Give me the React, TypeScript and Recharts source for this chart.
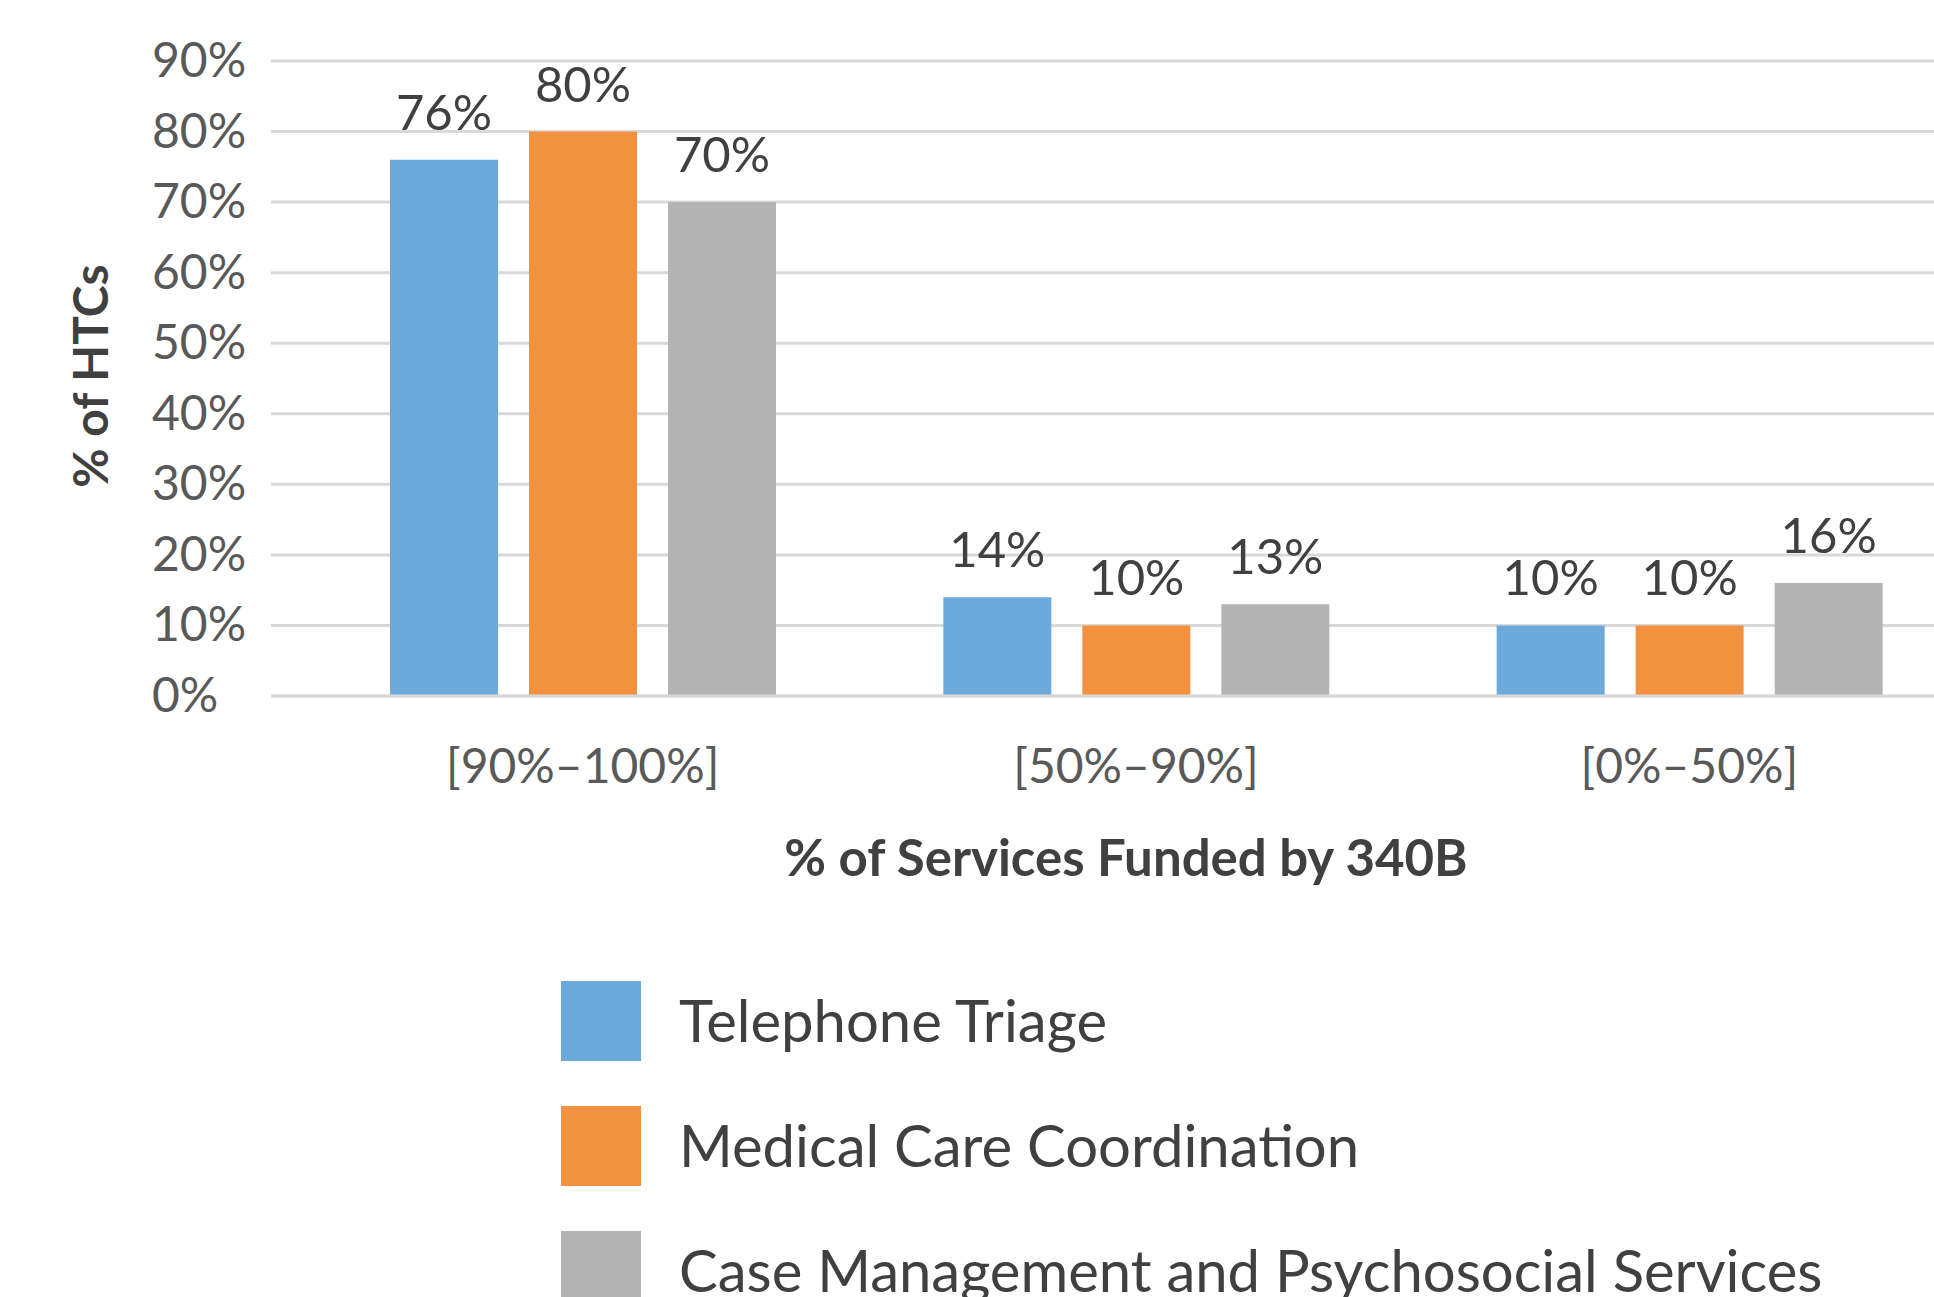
import { BarChart, Bar, XAxis, YAxis, CartesianGrid, Legend, LabelList } from 'recharts'

const categories = ['[90%–100%]', '[50%–90%]', '[0%–50%]']
const telephoneTriage = [76, 14, 10]
const medicalCare = [80, 10, 10]
const caseManagement = [70, 13, 16]
const yTicks = [0, 10, 20, 30, 40, 50, 60, 70, 80, 90]

const seriesNames = ['Telephone Triage', 'Medical Care Coordination', 'Case Management and Psychosocial Services']
const seriesColors = ['#6CAADC', '#F29241', '#B3B3B3']

const data = categories.map((name, i) => ({
  name,
  tt: telephoneTriage[i],
  mc: medicalCare[i],
  cm: caseManagement[i],
}))

const FONT = 'Lato, "Open Sans", sans-serif'

const YTick = ({ x, y, payload }: any) => (
  <text x={x - 119} y={y + 16} textAnchor="start" fontSize={48} fill="#595959" fontFamily={FONT}>
    {payload.value}%
  </text>
)

const XTick = ({ x, y, payload }: any) => (
  <text x={x} y={y + 87} textAnchor="middle" fontSize={48} fill="#595959" fontFamily={FONT}>
    {payload.value}
  </text>
)

const LegendContent = () => (
  <div style={{ fontFamily: FONT }}>
    {seriesNames.map((n, i) => (
      <div key={n} style={{ display: 'flex', alignItems: 'center', height: 80, marginBottom: 45 }}>
        <div style={{ width: 80, height: 80, background: seriesColors[i] }} />
        <span style={{ marginLeft: 38, fontSize: 58, color: '#404040', whiteSpace: 'nowrap', marginTop: -4 }}>{n}</span>
      </div>
    ))}
  </div>
)

export default function App() {
  return (
    <div style={{ position: 'absolute', left: 0, top: 0, width: 1934, height: 1297, overflow: 'hidden', background: '#fff' }}>
      <BarChart
        width={1966}
        height={1297}
        data={data}
        margin={{ top: 61, right: 0, left: 0, bottom: 471 }}
        barSize={108}
        barGap={31}
      >
        <CartesianGrid vertical={false} stroke="#D9D9D9" strokeWidth={3} />
        <XAxis
          dataKey="name"
          height={130}
          padding={{ left: 35, right: 0 }}
          axisLine={{ stroke: '#D9D9D9', strokeWidth: 3 }}
          tickLine={false}
          tickSize={0}
          tickMargin={0}
          tick={<XTick />}
          label={{
            content: () => (
              <text x={1126} y={876} textAnchor="middle" fontSize={51} fontWeight="bold" fill="#404040" fontFamily={FONT}>
                % of Services Funded by 340B
              </text>
            ),
          }}
        />
        <YAxis
          width={271}
          domain={[0, 90]}
          ticks={yTicks}
          axisLine={false}
          tickLine={false}
          tickSize={0}
          tickMargin={0}
          tick={<YTick />}
          label={{
            content: () => (
              <text x={108} y={376} transform="rotate(-90, 108, 376)" textAnchor="middle" fontSize={48} fontWeight="bold" fill="#404040" fontFamily={FONT}>
                % of HTCs
              </text>
            ),
          }}
        />
        <Legend
          layout="vertical"
          align="center"
          verticalAlign="middle"
          content={<LegendContent />}
          wrapperStyle={{ position: 'absolute', left: 561, top: 981, width: 1300 }}
        />
        <Bar dataKey="tt" name={seriesNames[0]} fill={seriesColors[0]} isAnimationActive={false}>
          <LabelList dataKey="tt" position="top" offset={30} formatter={(v: any) => `${v}%`} fontSize={49} fill="#404040" fontFamily={FONT} />
        </Bar>
        <Bar dataKey="mc" name={seriesNames[1]} fill={seriesColors[1]} isAnimationActive={false}>
          <LabelList dataKey="mc" position="top" offset={30} formatter={(v: any) => `${v}%`} fontSize={49} fill="#404040" fontFamily={FONT} />
        </Bar>
        <Bar dataKey="cm" name={seriesNames[2]} fill={seriesColors[2]} isAnimationActive={false}>
          <LabelList dataKey="cm" position="top" offset={30} formatter={(v: any) => `${v}%`} fontSize={49} fill="#404040" fontFamily={FONT} />
        </Bar>
      </BarChart>
    </div>
  )
}
